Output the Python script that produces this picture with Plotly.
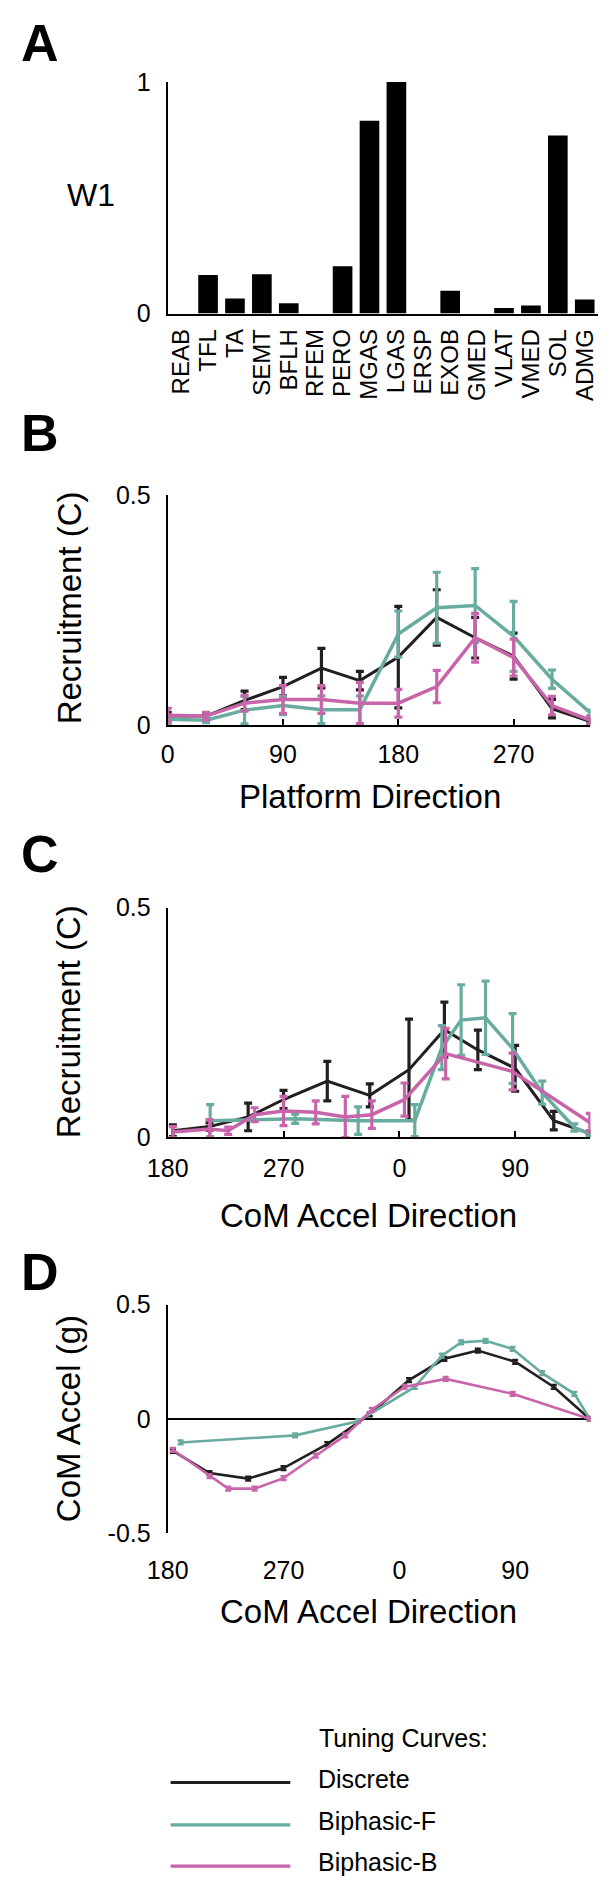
import plotly.graph_objects as go

W, H = 603, 1895
FONT = "Liberation Sans"
BLACK = "#231f20"
TEAL = "#68aca0"
PINK = "#c864aa"

# ---------------- Panel A data ----------------
muscles = ["REAB", "TFL", "TA", "SEMT", "BFLH", "RFEM", "PERO", "MGAS", "LGAS",
           "ERSP", "EXOB", "GMED", "VLAT", "VMED", "SOL", "ADMG"]
w1 = [0, 0.166, 0.065, 0.170, 0.044, 0, 0.204, 0.833, 1.0,
      0, 0.098, 0, 0.024, 0.035, 0.769, 0.061]

# ---------------- Panel B data (platform direction) ----------------
plat_dir = [0, 30, 60, 90, 120, 150, 180, 210, 240, 270, 300, 330]
b_disc = [0.020, 0.020, 0.054, 0.084, 0.124, 0.097, 0.148, 0.234, 0.190, 0.150, 0.036, 0.008]
b_disc_err = [0.008, 0.006, 0.020, 0.020, 0.043, 0.020, 0.110, 0.060, 0.044, 0.050, 0.020, 0.005]
b_bif = [0.013, 0.011, 0.033, 0.043, 0.034, 0.034, 0.198, 0.255, 0.260, 0.193, 0.100, 0.027]
b_bif_err = [0.010, 0.005, 0.030, 0.020, 0.030, 0.030, 0.050, 0.077, 0.080, 0.076, 0.020, 0.006]
b_bib = [0.022, 0.020, 0.048, 0.056, 0.056, 0.048, 0.048, 0.084, 0.190, 0.147, 0.043, 0.011]
b_bib_err = [0.015, 0.008, 0.017, 0.030, 0.030, 0.045, 0.030, 0.035, 0.053, 0.040, 0.020, 0.008]

# ---------------- Panel C data (CoM accel direction, unwrapped degrees) ----------------
c_disc_x = [184, 212.5, 242.5, 270, 304, 337, 367.5, 395, 421, 450, 480, 508]
c_disc = [0.014, 0.023, 0.044, 0.082, 0.122, 0.091, 0.147, 0.234, 0.190, 0.150, 0.036, 0.008]
c_disc_err = [0.013, 0.008, 0.030, 0.020, 0.043, 0.025, 0.110, 0.060, 0.043, 0.050, 0.020, 0.005]
c_bif_x = [213, 279, 328, 372, 393, 408, 427, 448, 471, 496, 508]
c_bif = [0.036, 0.040, 0.036, 0.036, 0.195, 0.255, 0.260, 0.193, 0.097, 0.021, 0.007]
c_bif_err = [0.035, 0.010, 0.030, 0.035, 0.048, 0.077, 0.080, 0.076, 0.025, 0.008, 0.005]
c_bib_x = [184, 212.5, 227, 247.5, 270, 295, 318, 338.6, 364, 396, 448, 508]
c_bib = [0.011, 0.018, 0.014, 0.049, 0.057, 0.054, 0.044, 0.049, 0.082, 0.182, 0.143, 0.032]
c_bib_err = [0.012, 0.020, 0.008, 0.015, 0.032, 0.025, 0.045, 0.030, 0.036, 0.055, 0.040, 0.020]
com_tickvals = [180, 270, 360, 450]
com_ticktext = ["180", "270", "0", "90"]

# ---------------- Panel D data ----------------
d_disc_x = [184, 212.5, 242.5, 270, 304, 337, 367.5, 395, 421, 450, 480, 508]
d_disc = [-0.140, -0.237, -0.261, -0.215, -0.110, 0.020, 0.170, 0.263, 0.299, 0.250, 0.140, 0.000]
d_bif_x = [190, 279, 328, 372, 393, 408, 427, 448, 471, 496, 508]
d_bif = [-0.103, -0.072, -0.010, 0.140, 0.277, 0.335, 0.342, 0.306, 0.200, 0.110, 0.000]
d_bib_x = [184, 212.5, 227, 247.5, 270, 295, 318, 338.6, 364, 396, 448, 508]
d_bib = [-0.135, -0.250, -0.305, -0.305, -0.259, -0.161, -0.072, 0.040, 0.140, 0.175, 0.110, 0.000]
d_err = 0.008

series_names = ["Discrete", "Biphasic-F", "Biphasic-B"]
series_colors = [BLACK, TEAL, PINK]


def px(x):
    return x / W


def py(y):
    return 1 - y / H


fig = go.Figure()

# Panel A bars
fig.add_trace(go.Bar(x=muscles, y=w1, marker=dict(color="black", line=dict(width=0)),
                     xaxis="x", yaxis="y", showlegend=False))


def add_lines(xs, ys, errs, color, ax, lw=3.5, ew=3.2, cap=4):
    fig.add_trace(go.Scatter(
        x=xs, y=ys, mode="lines", line=dict(color=color, width=lw),
        error_y=dict(type="data", array=errs, visible=True, color=color,
                     thickness=ew, width=cap),
        xaxis="x" + ax, yaxis="y" + ax, showlegend=False, cliponaxis=False))


# Panel B
add_lines(plat_dir, b_disc, b_disc_err, BLACK, "2", lw=3)
add_lines(plat_dir, b_bif, b_bif_err, TEAL, "2")
add_lines(plat_dir, b_bib, b_bib_err, PINK, "2")
# Panel C
add_lines(c_disc_x, c_disc, c_disc_err, BLACK, "3", lw=3)
add_lines(c_bif_x, c_bif, c_bif_err, TEAL, "3")
add_lines(c_bib_x, c_bib, c_bib_err, PINK, "3")
# Panel D
add_lines(d_disc_x, d_disc, [d_err] * len(d_disc), BLACK, "4", lw=2.6, ew=2.6, cap=3)
add_lines(d_bif_x, d_bif, [d_err] * len(d_bif), TEAL, "4", lw=2.6, ew=2.6, cap=3)
add_lines(d_bib_x, d_bib, [d_err] * len(d_bib), PINK, "4", lw=2.6, ew=2.6, cap=3)

xdom = [px(152), px(590)]
tickfont = dict(family=FONT, size=25, color="black")
axline = dict(showline=True, linecolor="black", linewidth=2, showgrid=False, zeroline=False)

fig.update_layout(
    width=W, height=H, autosize=False,
    margin=dict(l=0, r=0, t=0, b=0),
    paper_bgcolor="white", plot_bgcolor="white",
    font=dict(family=FONT, color="black"),
    bargap=0.27,
    xaxis=dict(domain=[px(152), px(598)], range=[-0.5, 15.5], anchor="y",
               tickmode="array", tickvals=muscles, ticktext=muscles,
               tickangle=-90, tickfont=dict(family=FONT, size=24, color="black"),
               ticks="", ticklabelstandoff=4, **axline),
    yaxis=dict(domain=[py(304), py(69)], range=[0, 1], anchor="x",
               tickvals=[0, 1], ticktext=["0", "1"], tickfont=tickfont, ticks="",
               ticklabelstandoff=10, **axline),
    xaxis2=dict(domain=xdom, range=[0, 330], anchor="y2", tickvals=[0, 90, 180, 270],
                ticks="inside", ticklen=6, tickwidth=1.5, tickcolor="black",
                tickfont=tickfont, ticklabelstandoff=6, **axline),
    yaxis2=dict(domain=[py(722), py(488)], range=[0, 0.5], anchor="x2",
                tickvals=[0, 0.5], ticktext=["0", "0.5"], tickfont=tickfont, ticks="",
                ticklabelstandoff=10, **axline),
    xaxis3=dict(domain=xdom, range=[180, 508.5], anchor="y3", tickvals=com_tickvals,
                ticktext=com_ticktext, ticks="inside", ticklen=6, tickwidth=1.5,
                tickcolor="black", tickfont=tickfont, ticklabelstandoff=8, **axline),
    yaxis3=dict(domain=[py(1140), py(907)], range=[0, 0.5], anchor="x3",
                tickvals=[0, 0.5], ticktext=["0", "0.5"], tickfont=tickfont, ticks="",
                ticklabelstandoff=10, **axline),
    xaxis4=dict(domain=xdom, range=[180, 508.5], anchor="y4", tickvals=com_tickvals,
                ticktext=com_ticktext, ticks="", tickfont=tickfont, ticklabelstandoff=20,
                showline=False, showgrid=False, zeroline=False),
    yaxis4=dict(domain=[py(1542), py(1310)], range=[-0.5, 0.5], anchor="x4",
                tickvals=[-0.5, 0, 0.5], ticktext=["-0.5", "0", "0.5"], tickfont=tickfont,
                ticks="", ticklabelstandoff=10, showline=True, linecolor="black",
                linewidth=2, showgrid=False, zeroline=True, zerolinecolor="black",
                zerolinewidth=1.5),
)

ann = []


def text(x, y, s, size, bold=False, angle=0, xanchor="center"):
    ann.append(dict(x=px(x), y=py(y), xref="paper", yref="paper", text=("<b>%s</b>" % s) if bold else s,
                    showarrow=False, textangle=angle, xanchor=xanchor, yanchor="middle",
                    font=dict(family=FONT, size=size, color="black")))


# panel letters
text(20, 29, "A", 52, bold=True)
text(20, 425, "B", 52, bold=True)
text(20, 853, "C", 52, bold=True)
text(20, 1277, "D", 52, bold=True)
# axis titles
text(73, 184, "W1", 32)
text(50, 603, "Recruitment (C)", 33, angle=-90)
text(362, 794, "Platform Direction", 33)
text(50, 1023, "Recruitment (C)", 33, angle=-90)
text(360, 1220, "CoM Accel Direction", 33)
text(50, 1426, "CoM Accel (g)", 33, angle=-90)
text(360, 1621, "CoM Accel Direction", 33)
# legend
text(307, 1750, "Tuning Curves:", 25, xanchor="left")
legend_y = [1793, 1836, 1878]
shapes = []
for name, col, ly in zip(series_names, series_colors, legend_y):
    text(306, ly - 2, name, 25, xanchor="left")
    shapes.append(dict(type="line", xref="paper", yref="paper", x0=px(155), x1=px(279),
                       y0=py(ly + 2), y1=py(ly + 2), line=dict(color=col, width=3.2)))

fig.update_layout(annotations=ann, shapes=shapes)
fig.write_html(
    "out.html",
    config={"displayModeBar": False},
    post_script="document.body.style.margin='0';document.body.style.overflow='hidden';"
)
